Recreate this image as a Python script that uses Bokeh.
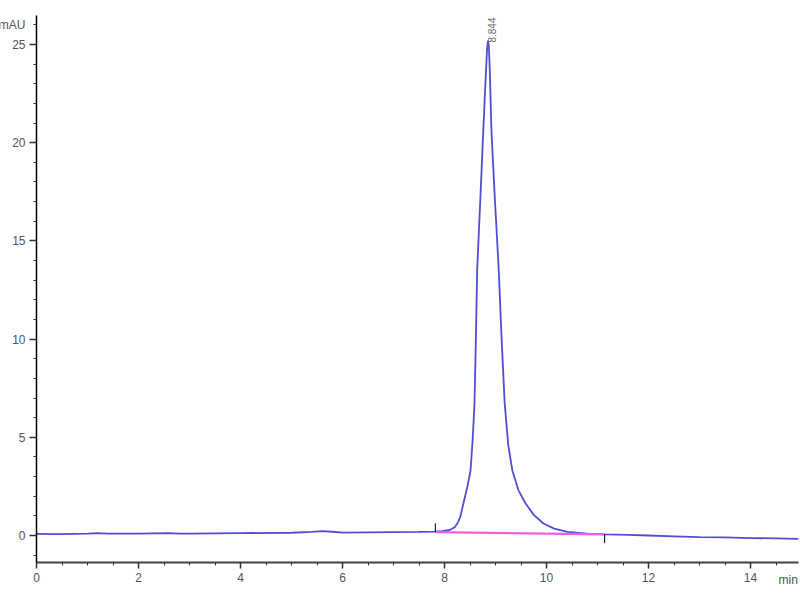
import math
from bokeh.plotting import figure
from bokeh.models import Range1d, Label, FixedTicker
from bokeh.embed import file_html
from bokeh.resources import INLINE

# ---- data ----
time_min = [0.0, 0.4, 1.0, 1.2, 1.4, 2.0, 2.6, 2.8, 3.0, 4.0, 5.0, 5.4, 5.6, 5.8, 6.0, 7.0, 7.5, 7.8,
            7.95, 8.1, 8.2, 8.25, 8.31, 8.37, 8.45, 8.51, 8.55, 8.588, 8.615, 8.64, 8.70, 8.76, 8.81,
            8.835, 8.853, 8.87, 8.89, 8.92, 8.99, 9.06, 9.12, 9.18, 9.25, 9.33, 9.45, 9.59, 9.75,
            9.94, 10.15, 10.41, 10.8, 11.14, 11.6, 12.0, 12.5, 13.0, 13.5, 14.0, 14.5, 14.94]
signal_mau = [0.08, 0.07, 0.09, 0.12, 0.10, 0.10, 0.12, 0.09, 0.10, 0.12, 0.14, 0.18, 0.22, 0.19, 0.15, 0.17, 0.18, 0.20,
              0.22, 0.28, 0.42, 0.61, 0.95, 1.63, 2.50, 3.31, 4.80, 6.72, 10.0, 13.5, 17.0, 20.6, 23.5,
              24.8, 25.2, 24.9, 23.5, 20.6, 17.0, 13.7, 10.0, 6.72, 4.60, 3.31, 2.30, 1.63, 1.05,
              0.61, 0.35, 0.18, 0.10, 0.06, 0.03, 0.0, -0.04, -0.08, -0.10, -0.13, -0.15, -0.17]

# integration baseline (start / end of the integrated peak)
base_time = [7.82, 11.14]
base_signal = [0.17, 0.06]

peak_rt = 8.844
peak_label = "8.844"
peak_apex = 25.2

x_ticks = [0, 2, 4, 6, 8, 10, 12, 14]
y_ticks = [0, 5, 10, 15, 20, 25]
x_axis_span = (0, 14.94)
y_axis_span = (-1.37, 26.48)

W, H = 800, 600
p = figure(width=W, height=H, output_backend="svg", toolbar_location=None,
           x_range=Range1d(-0.706, 14.98), y_range=Range1d(-3.31, 27.24),
           min_border_left=0, min_border_right=0, min_border_top=0, min_border_bottom=0)
p.outline_line_color = None
p.grid.visible = False
p.background_fill_color = "white"

p.line(time_min, signal_mau, line_color="#3c3cd2", line_width=1.8, line_alpha=0.9)
p.line(base_time, base_signal, line_color="#ee5fe0", line_width=2.2)
# integration event marks
p.segment(x0=[base_time[0]], y0=[base_signal[0]], x1=[base_time[0]], y1=[base_signal[0] + 0.45],
          line_color="black", line_width=1)
p.segment(x0=[base_time[1]], y0=[base_signal[1]], x1=[base_time[1]], y1=[base_signal[1] - 0.45],
          line_color="black", line_width=1)

font = "Liberation Sans"
for ax in (p.xaxis[0], p.yaxis[0]):
    ax.major_label_text_font = font
    ax.major_label_text_font_size = "12px"
    ax.major_label_text_color = "#555555"
    ax.major_tick_in = 0
    ax.minor_tick_in = 0
    ax.major_tick_line_color = "#333333"
    ax.minor_tick_line_color = "#333333"

p.xaxis.fixed_location = y_axis_span[0]
p.yaxis.fixed_location = x_axis_span[0]
p.xaxis.bounds = x_axis_span
p.yaxis.bounds = y_axis_span
p.xaxis.ticker = FixedTicker(ticks=x_ticks, minor_ticks=[i * 0.5 for i in range(0, 30)])
p.yaxis.ticker = FixedTicker(ticks=y_ticks, minor_ticks=list(range(-1, 27)))
p.xaxis.major_tick_out = 6
p.xaxis.minor_tick_out = 3
p.yaxis.major_tick_out = 7
p.yaxis.minor_tick_out = 3
p.xaxis.major_label_standoff = 5
p.yaxis.major_label_standoff = 4
p.xaxis.axis_line_color = "#444444"
p.xaxis.axis_line_width = 2
p.yaxis.axis_line_color = "black"
p.yaxis.axis_line_width = 1.5
p.xaxis.major_tick_line_width = 1.5
p.yaxis.major_tick_line_width = 1.5

p.add_layout(Label(x=-0.216, y=26.0, text="mAU",
                   text_font=font, text_font_size="12px", text_color="#555555",
                   text_align="right", text_baseline="middle"))
p.add_layout(Label(x=14.93, y=-2.29, text="min",
                   text_font=font, text_font_size="12px", text_color="#555555",
                   text_align="right", text_baseline="middle"))
p.add_layout(Label(x=peak_rt, y=peak_apex, text=peak_label, angle=math.pi / 2,
                   x_offset=4, y_offset=-2, text_font=font, text_font_size="10px",
                   text_color="#666666", text_align="left", text_baseline="middle"))

open("out.html", "w").write(file_html(p, INLINE))
